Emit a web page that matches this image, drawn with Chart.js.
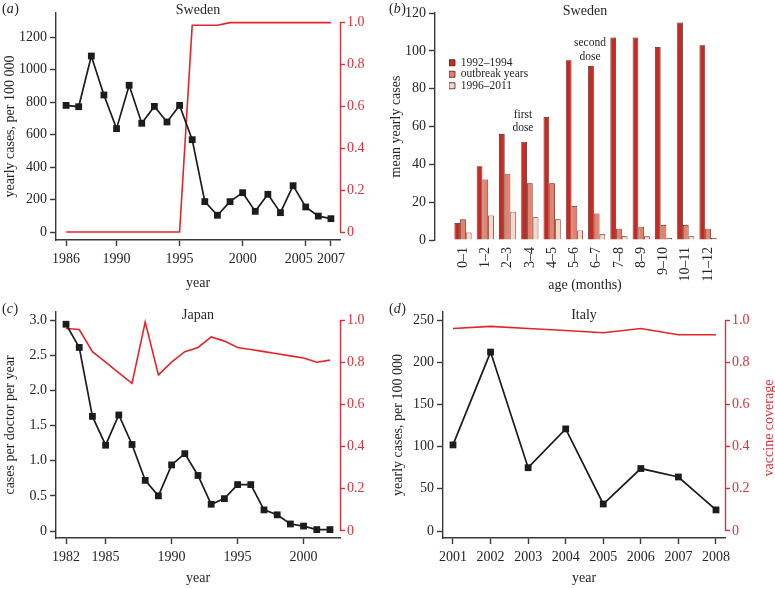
<!DOCTYPE html>
<html><head><meta charset="utf-8">
<script src="https://cdn.jsdelivr.net/npm/chart.js@4/dist/chart.umd.min.js"></script>
<style>
html,body{margin:0;padding:0;background:#fff;}
#wrap{position:relative;width:775px;height:589px;overflow:hidden;}
canvas{position:absolute;left:0;top:0;}
</style></head><body>
<div id="wrap">
<canvas id="cA" width="775" height="589"></canvas>
<canvas id="cB" width="775" height="589"></canvas>
<canvas id="cC" width="775" height="589"></canvas>
<canvas id="cD" width="775" height="589"></canvas>
</div>
<script>
// ---------- data ----------
const swedenYears = [1986,1987,1988,1989,1990,1991,1992,1993,1994,1995,1996,1997,1998,1999,2000,2001,2002,2003,2004,2005,2006,2007];
const swedenCases = [779,771,1083,843,636,903,669,773,677,779,568,187,103,187,242,127,232,119,285,154,98,82];
const swedenCoverage = [0,0,0,0,0,0,0,0,0,0,0.985,0.985,0.985,0.997,0.997,0.997,0.997,0.997,0.997,0.997,0.997,0.997];
const swedenYearTicks = [1986,1990,1995,2000,2005,2007];
const swedenCaseTicks = [0,200,400,600,800,1000,1200];

const ageGroups = ['0–1','1–2','2–3','3–4','4–5','5–6','6–7','7–8','8–9','9–10','10–11','11–12'];
const cases1992to1994 = [9,39,56,52,65,95,92,107,107,102,115,103];
const casesOutbreak = [11,32,35,30,30,18,14,6,7,8,8,6];
const cases1996to2011 = [4,13,15,12,11,5,3,2,2,1,2,1];
const ageCaseTicks = [0,20,40,60,80,100,120];

const japanYears = [1982,1983,1984,1985,1986,1987,1988,1989,1990,1991,1992,1993,1994,1995,1996,1997,1998,1999,2000,2001,2002];
const japanCases = [2.94,2.61,1.63,1.22,1.65,1.23,0.72,0.50,0.94,1.10,0.79,0.38,0.46,0.66,0.66,0.30,0.23,0.10,0.07,0.02,0.02];
const japanCoverage = [0.96,0.955,0.85,0.80,0.75,0.70,0.99,0.74,0.80,0.85,0.87,0.92,0.90,0.87,0.86,0.85,0.84,0.83,0.82,0.80,0.81];
const japanYearTicks = [1982,1985,1990,1995,2000];
const japanCaseTicks = [0,0.5,1.0,1.5,2.0,2.5,3.0];

const italyYears = [2001,2002,2003,2004,2005,2006,2007,2008];
const italyCases = [102,212,75,121,32,74,64,25];
const italyCoverage = [0.96,0.97,0.96,0.95,0.94,0.96,0.93,0.93];
const italyCaseTicks = [0,50,100,150,200,250];

const coverageTicks = [0,0.2,0.4,0.6,0.8,1.0];

// ---------- style ----------
const FONT = "'Liberation Serif', 'Times New Roman', serif";
const INK = '#1c1c1c';
const TXT = '#262626';
const AXIS = '#3a3a3a';
const RED = '#e3252b';
const RED_AXIS = '#d8323a';
Chart.defaults.font.family = FONT;
Chart.defaults.color = TXT;

const pts = (xs, ys) => xs.map((x, i) => ({x: x, y: ys[i]}));
const ticksAt = vals => axis => { axis.ticks = vals.map(v => ({value: v})); };
const fmtInt = v => String(v);
const fmtDec = v => (v === 0 ? '0' : Number(v).toFixed(1));
// the 2005 label sits a little left of its tick in the original, to clear 2007
const fmtSwedenYear = v => (v === 2005 ? '2005\u2002\u2002' : String(v));

function leftAxis(min, max, tickVals, fmt, width, title, titlePad) {
  return {
    type: 'linear', position: 'left', min: min, max: max,
    afterBuildTicks: ticksAt(tickVals),
    afterFit: s => { s.width = width; },
    border: {display: true, color: AXIS, width: 1.4},
    grid: {display: true, drawOnChartArea: false, drawTicks: true, tickLength: 6, tickColor: AXIS, tickWidth: 1.4},
    ticks: {font: {size: 14}, color: TXT, padding: 3, callback: fmt, autoSkip: false},
    title: {display: true, text: title, font: {size: 14}, color: TXT, padding: {top: titlePad, bottom: 0}}
  };
}
function rightAxis(min, max, width) {
  return {
    type: 'linear', position: 'right', min: min, max: max,
    afterBuildTicks: ticksAt(coverageTicks),
    afterFit: s => { s.width = width; },
    border: {display: false},
    grid: {display: true, drawOnChartArea: false, drawTicks: true, tickLength: 5, tickColor: RED_AXIS, tickWidth: 1.4},
    ticks: {font: {size: 14}, color: RED_AXIS, padding: 2, callback: fmtDec, autoSkip: false}
  };
}
function bottomAxis(min, max, tickVals, fmt, height, titlePad) {
  return {
    type: 'linear', position: 'bottom', min: min, max: max,
    afterBuildTicks: ticksAt(tickVals),
    afterFit: s => { s.height = height; },
    border: {display: true, color: AXIS, width: 1.4},
    grid: {display: true, drawOnChartArea: false, drawTicks: true, tickLength: 6, tickColor: AXIS, tickWidth: 1.4},
    ticks: {font: {size: 14}, color: TXT, padding: 5, callback: fmt, autoSkip: false, maxRotation: 0, minRotation: 0},
    title: {display: true, text: 'year', font: {size: 14}, color: TXT, padding: {top: 0, bottom: titlePad}}
  };
}
function casesLine(label, xs, ys) {
  return {label: label, data: pts(xs, ys), borderColor: INK, backgroundColor: INK, borderWidth: 1.7,
    pointStyle: 'rect', pointRadius: 4.8, pointBorderWidth: 0, pointBackgroundColor: INK, yAxisID: 'y', tension: 0};
}
function coverageLine(label, xs, ys) {
  return {label: label, data: pts(xs, ys), borderColor: RED, backgroundColor: RED, borderWidth: 1.6,
    pointRadius: 0, yAxisID: 'y1', tension: 0};
}

// decorations: panel letter, panel title, red right axis line, rotated right title, notes
const decor = {
  id: 'decor',
  afterDraw(chart, args, o) {
    const ctx = chart.ctx, ca = chart.chartArea;
    ctx.save();
    ctx.fillStyle = TXT;
    ctx.textBaseline = 'alphabetic';
    ctx.textAlign = 'left';
    let x = o.letterX;
    ctx.font = '14px ' + FONT; ctx.fillText('(', x, o.letterY); x += ctx.measureText('(').width;
    ctx.font = 'italic 14px ' + FONT; ctx.fillText(o.letter, x, o.letterY); x += ctx.measureText(o.letter).width + 0.5;
    ctx.font = '14px ' + FONT; ctx.fillText(')', x, o.letterY);
    ctx.textAlign = 'center';
    ctx.fillText(o.title, (ca.left + ca.right) / 2, o.titleY);
    if (o.redAxis) {
      const s = chart.scales.y1;
      ctx.strokeStyle = RED_AXIS; ctx.lineWidth = 1.4;
      ctx.beginPath();
      ctx.moveTo(s.left + 0.5, s.getPixelForValue(1));
      ctx.lineTo(s.left + 0.5, s.getPixelForValue(0));
      ctx.stroke();
    }
    if (o.rightTitle) {
      ctx.save();
      ctx.fillStyle = RED_AXIS;
      ctx.font = '14px ' + FONT;
      ctx.translate(o.rightTitleX, (ca.top + ca.bottom) / 2 + 3);
      ctx.rotate(-Math.PI / 2);
      ctx.textAlign = 'center'; ctx.textBaseline = 'alphabetic';
      ctx.fillText(o.rightTitle, 0, 0);
      ctx.restore();
    }
    if (o.notes) {
      ctx.font = '11.5px ' + FONT; ctx.textAlign = 'center'; ctx.fillStyle = TXT;
      o.notes.forEach(n => {
        const px = chart.scales.x.getPixelForValue(n.x), py = chart.scales.y.getPixelForValue(n.y);
        n.lines.forEach((t, i) => ctx.fillText(t, px, py + i * 13.5));
      });
    }
    ctx.restore();
  }
};
// moves the (chartArea) legend of panel b to its place inside the plot
const legendPlacer = {
  id: 'legendPlacer',
  afterLayout(chart, args, o) {
    const lg = chart.legend; if (!lg) return;
    const ca = chart.chartArea;
    lg.left = ca.left + o.dx; lg.top = ca.top + o.dy;
    lg.right = lg.left + lg.width; lg.bottom = lg.top + lg.height + 60;
  }
};

const common = {responsive: false, animation: false, devicePixelRatio: 1, events: []};

// ---------- (a) Sweden yearly cases ----------
new Chart(document.getElementById('cA'), {
  type: 'line',
  data: {datasets: [
    casesLine('yearly cases', swedenYears, swedenCases),
    coverageLine('vaccine coverage', swedenYears, swedenCoverage)
  ]},
  options: Object.assign({}, common, {
    layout: {padding: {left: 0, top: 13, right: 385, bottom: 297}},
    scales: {
      x: bottomAxis(1985.2, 2007.72, swedenYearTicks, fmtSwedenYear, 52, 0.6),
      y: leftAxis(-49.2, 1347.7, swedenCaseTicks, fmtInt, 56, 'yearly cases, per 100 000', 2.1),
      y1: rightAxis(-0.038, 1.043, 50)
    },
    plugins: {legend: {display: false}, tooltip: {enabled: false},
      decor: {letter: 'a', letterX: 2, letterY: 13, title: 'Sweden', titleY: 14, redAxis: true}}
  }),
  plugins: [decor]
});

// ---------- (b) Sweden by age ----------
const barStyle = {borderColor: '#4a1c16', borderWidth: 0.8, categoryPercentage: 0.77, barPercentage: 1.0};
new Chart(document.getElementById('cB'), {
  type: 'bar',
  data: {datasets: [
    Object.assign({label: '1992–1994', data: pts(ageGroups.map((_, i) => i), cases1992to1994), backgroundColor: '#c82a21'}, barStyle),
    Object.assign({label: 'outbreak years', data: pts(ageGroups.map((_, i) => i), casesOutbreak), backgroundColor: '#e8806a'}, barStyle),
    Object.assign({label: '1996–2011', data: pts(ageGroups.map((_, i) => i), cases1996to2011), backgroundColor: '#f8d6c8'}, barStyle)
  ]},
  options: Object.assign({}, common, {
    layout: {padding: {left: 387, top: 13, right: 40, bottom: 293}},
    scales: {
      x: {
        type: 'linear', position: 'bottom', min: -1.257, max: 12.21, offset: false,
        afterBuildTicks: ticksAt(ageGroups.map((_, i) => i)),
        afterFit: s => { s.height = 56; },
        border: {display: false},
        grid: {display: false, drawTicks: false, offset: false},
        ticks: {font: {size: 14}, color: TXT, padding: 7, autoSkip: false, minRotation: 90, maxRotation: 90,
          callback: v => ageGroups[v]},
        title: {display: true, text: 'age (months)', font: {size: 14}, color: TXT, padding: {top: 0, bottom: 2.3}}
      },
      y: leftAxis(0, 120, ageCaseTicks, fmtInt, 48, 'mean yearly cases', 0.6)
    },
    plugins: {
      tooltip: {enabled: false},
      legend: {display: true, position: 'chartArea', align: 'start',
        labels: {boxWidth: 6, boxHeight: 6, padding: 0, font: {size: 11.5}, color: TXT}},
      legendPlacer: {dx: 14, dy: 44},
      decor: {letter: 'b', letterX: 389, letterY: 13, title: 'Sweden', titleY: 15,
        notes: [{x: 2.69, y: 64.6, lines: ['first', 'dose']}, {x: 5.7, y: 102.4, lines: ['second', 'dose']}]}
    }
  }),
  plugins: [legendPlacer, decor]
});

// ---------- (c) Japan ----------
new Chart(document.getElementById('cC'), {
  type: 'line',
  data: {datasets: [
    casesLine('cases per doctor per year', japanYears, japanCases),
    coverageLine('vaccine coverage', japanYears, japanCoverage)
  ]},
  options: Object.assign({}, common, {
    layout: {padding: {left: 0, top: 312, right: 385, bottom: 0}},
    scales: {
      x: bottomAxis(1981.24, 2002.76, japanYearTicks, fmtInt, 51, 2.6),
      y: leftAxis(-0.0995, 3.114, japanCaseTicks, fmtDec, 56, 'cases per doctor per year', 2.1),
      y1: rightAxis(-0.0332, 1.038, 50)
    },
    plugins: {legend: {display: false}, tooltip: {enabled: false},
      decor: {letter: 'c', letterX: 2, letterY: 313, title: 'Japan', titleY: 319, redAxis: true}}
  }),
  plugins: [decor]
});

// ---------- (d) Italy ----------
new Chart(document.getElementById('cD'), {
  type: 'line',
  data: {datasets: [
    casesLine('yearly cases, per 100 000', italyYears, italyCases),
    coverageLine('vaccine coverage', italyYears, italyCoverage)
  ]},
  options: Object.assign({}, common, {
    layout: {padding: {left: 388, top: 312, right: 0, bottom: 0}},
    scales: {
      x: bottomAxis(2000.734, 2008.24, italyYears, fmtInt, 51, 2.6),
      y: leftAxis(-8.29, 259.48, italyCaseTicks, fmtInt, 55, 'yearly cases, per 100 000', 1.6),
      y1: rightAxis(-0.0332, 1.038, 50)
    },
    plugins: {legend: {display: false}, tooltip: {enabled: false},
      decor: {letter: 'd', letterX: 389, letterY: 313, title: 'Italy', titleY: 318.6, redAxis: true,
        rightTitle: 'vaccine coverage', rightTitleX: 772.5}}
  }),
  plugins: [decor]
});
</script>
</body></html>
